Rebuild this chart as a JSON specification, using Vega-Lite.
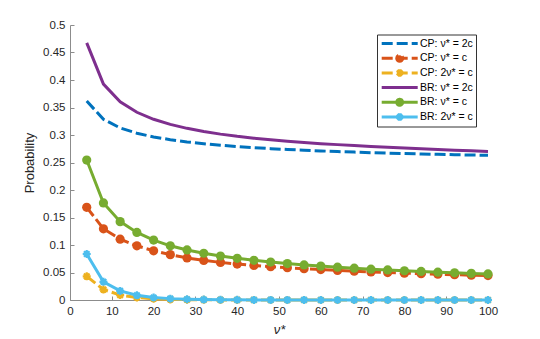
{
  "$schema": "https://vega.github.io/schema/vega-lite/v6.json",
  "width": 418,
  "height": 275,
  "autosize": {"type": "none"},
  "padding": {"left": 70, "top": 25, "right": 52, "bottom": 39},
  "background": "white",
  "config": {
    "view": {"stroke": null},
    "font": "Liberation Sans",
    "axis": {
      "grid": false,
      "domainColor": "#8c8c8c",
      "tickColor": "#8c8c8c",
      "tickSize": -4,
      "labelFlush": false,
      "labelOverlap": false,
      "labelFont": "Liberation Sans",
      "labelFontSize": 11.5,
      "labelColor": "#262626",
      "labelPadding": 9,
      "titleFont": "Liberation Sans",
      "titleFontSize": 13,
      "titleFontWeight": "normal",
      "titleColor": "#262626"
    }
  },
  "data": {
    "values": [
      {"s": "CP: ν* = 2c", "x": 4, "p": 0.3618}, {"s": "CP: ν* = 2c", "x": 8, "p": 0.3285}, {"s": "CP: ν* = 2c", "x": 12, "p": 0.3129}, {"s": "CP: ν* = 2c", "x": 16, "p": 0.3033}, {"s": "CP: ν* = 2c", "x": 20, "p": 0.2965},
      {"s": "CP: ν* = 2c", "x": 24, "p": 0.2915}, {"s": "CP: ν* = 2c", "x": 28, "p": 0.2874}, {"s": "CP: ν* = 2c", "x": 32, "p": 0.2842}, {"s": "CP: ν* = 2c", "x": 36, "p": 0.2814}, {"s": "CP: ν* = 2c", "x": 40, "p": 0.2790},
      {"s": "CP: ν* = 2c", "x": 44, "p": 0.2770}, {"s": "CP: ν* = 2c", "x": 48, "p": 0.2752}, {"s": "CP: ν* = 2c", "x": 52, "p": 0.2737}, {"s": "CP: ν* = 2c", "x": 56, "p": 0.2723}, {"s": "CP: ν* = 2c", "x": 60, "p": 0.2710},
      {"s": "CP: ν* = 2c", "x": 64, "p": 0.2699}, {"s": "CP: ν* = 2c", "x": 68, "p": 0.2689}, {"s": "CP: ν* = 2c", "x": 72, "p": 0.2679}, {"s": "CP: ν* = 2c", "x": 76, "p": 0.2670}, {"s": "CP: ν* = 2c", "x": 80, "p": 0.2662},
      {"s": "CP: ν* = 2c", "x": 84, "p": 0.2655}, {"s": "CP: ν* = 2c", "x": 88, "p": 0.2648}, {"s": "CP: ν* = 2c", "x": 92, "p": 0.2642}, {"s": "CP: ν* = 2c", "x": 96, "p": 0.2636}, {"s": "CP: ν* = 2c", "x": 100, "p": 0.2630},

      {"s": "CP: ν* = c", "x": 4, "p": 0.1685}, {"s": "CP: ν* = c", "x": 8, "p": 0.1295}, {"s": "CP: ν* = c", "x": 12, "p": 0.1105}, {"s": "CP: ν* = c", "x": 16, "p": 0.0985}, {"s": "CP: ν* = c", "x": 20, "p": 0.0895},
      {"s": "CP: ν* = c", "x": 24, "p": 0.0825}, {"s": "CP: ν* = c", "x": 28, "p": 0.0765}, {"s": "CP: ν* = c", "x": 32, "p": 0.0720}, {"s": "CP: ν* = c", "x": 36, "p": 0.0684}, {"s": "CP: ν* = c", "x": 40, "p": 0.0654},
      {"s": "CP: ν* = c", "x": 44, "p": 0.0629}, {"s": "CP: ν* = c", "x": 48, "p": 0.0606}, {"s": "CP: ν* = c", "x": 52, "p": 0.0587}, {"s": "CP: ν* = c", "x": 56, "p": 0.0569}, {"s": "CP: ν* = c", "x": 60, "p": 0.0553},
      {"s": "CP: ν* = c", "x": 64, "p": 0.0538}, {"s": "CP: ν* = c", "x": 68, "p": 0.0524}, {"s": "CP: ν* = c", "x": 72, "p": 0.0511}, {"s": "CP: ν* = c", "x": 76, "p": 0.0499}, {"s": "CP: ν* = c", "x": 80, "p": 0.0488},
      {"s": "CP: ν* = c", "x": 84, "p": 0.0478}, {"s": "CP: ν* = c", "x": 88, "p": 0.0469}, {"s": "CP: ν* = c", "x": 92, "p": 0.0460}, {"s": "CP: ν* = c", "x": 96, "p": 0.0452}, {"s": "CP: ν* = c", "x": 100, "p": 0.0444},

      {"s": "CP: 2ν* = c", "x": 4, "p": 0.0430}, {"s": "CP: 2ν* = c", "x": 8, "p": 0.0190}, {"s": "CP: 2ν* = c", "x": 12, "p": 0.0090}, {"s": "CP: 2ν* = c", "x": 16, "p": 0.0045}, {"s": "CP: 2ν* = c", "x": 20, "p": 0.0022},
      {"s": "CP: 2ν* = c", "x": 24, "p": 0.0011}, {"s": "CP: 2ν* = c", "x": 28, "p": 0.0006}, {"s": "CP: 2ν* = c", "x": 32, "p": 0.0003}, {"s": "CP: 2ν* = c", "x": 36, "p": 0.0002}, {"s": "CP: 2ν* = c", "x": 40, "p": 0.0001},
      {"s": "CP: 2ν* = c", "x": 44, "p": 0.0001}, {"s": "CP: 2ν* = c", "x": 48, "p": 0}, {"s": "CP: 2ν* = c", "x": 52, "p": 0}, {"s": "CP: 2ν* = c", "x": 56, "p": 0}, {"s": "CP: 2ν* = c", "x": 60, "p": 0},
      {"s": "CP: 2ν* = c", "x": 64, "p": 0}, {"s": "CP: 2ν* = c", "x": 68, "p": 0}, {"s": "CP: 2ν* = c", "x": 72, "p": 0}, {"s": "CP: 2ν* = c", "x": 76, "p": 0}, {"s": "CP: 2ν* = c", "x": 80, "p": 0},
      {"s": "CP: 2ν* = c", "x": 84, "p": 0}, {"s": "CP: 2ν* = c", "x": 88, "p": 0}, {"s": "CP: 2ν* = c", "x": 92, "p": 0}, {"s": "CP: 2ν* = c", "x": 96, "p": 0}, {"s": "CP: 2ν* = c", "x": 100, "p": 0},

      {"s": "BR: ν* = 2c", "x": 4, "p": 0.4675}, {"s": "BR: ν* = 2c", "x": 8, "p": 0.3925}, {"s": "BR: ν* = 2c", "x": 12, "p": 0.3602}, {"s": "BR: ν* = 2c", "x": 16, "p": 0.3413}, {"s": "BR: ν* = 2c", "x": 20, "p": 0.3286},
      {"s": "BR: ν* = 2c", "x": 24, "p": 0.3193}, {"s": "BR: ν* = 2c", "x": 28, "p": 0.3121}, {"s": "BR: ν* = 2c", "x": 32, "p": 0.3063}, {"s": "BR: ν* = 2c", "x": 36, "p": 0.3016}, {"s": "BR: ν* = 2c", "x": 40, "p": 0.2976},
      {"s": "BR: ν* = 2c", "x": 44, "p": 0.2943}, {"s": "BR: ν* = 2c", "x": 48, "p": 0.2913}, {"s": "BR: ν* = 2c", "x": 52, "p": 0.2887}, {"s": "BR: ν* = 2c", "x": 56, "p": 0.2864}, {"s": "BR: ν* = 2c", "x": 60, "p": 0.2843},
      {"s": "BR: ν* = 2c", "x": 64, "p": 0.2825}, {"s": "BR: ν* = 2c", "x": 68, "p": 0.2808}, {"s": "BR: ν* = 2c", "x": 72, "p": 0.2792}, {"s": "BR: ν* = 2c", "x": 76, "p": 0.2777}, {"s": "BR: ν* = 2c", "x": 80, "p": 0.2763},
      {"s": "BR: ν* = 2c", "x": 84, "p": 0.2749}, {"s": "BR: ν* = 2c", "x": 88, "p": 0.2736}, {"s": "BR: ν* = 2c", "x": 92, "p": 0.2724}, {"s": "BR: ν* = 2c", "x": 96, "p": 0.2712}, {"s": "BR: ν* = 2c", "x": 100, "p": 0.2700},

      {"s": "BR: ν* = c", "x": 4, "p": 0.2545}, {"s": "BR: ν* = c", "x": 8, "p": 0.1765}, {"s": "BR: ν* = c", "x": 12, "p": 0.1425}, {"s": "BR: ν* = c", "x": 16, "p": 0.1228}, {"s": "BR: ν* = c", "x": 20, "p": 0.1090},
      {"s": "BR: ν* = c", "x": 24, "p": 0.0985}, {"s": "BR: ν* = c", "x": 28, "p": 0.0910}, {"s": "BR: ν* = c", "x": 32, "p": 0.0850}, {"s": "BR: ν* = c", "x": 36, "p": 0.0800}, {"s": "BR: ν* = c", "x": 40, "p": 0.0758},
      {"s": "BR: ν* = c", "x": 44, "p": 0.0722}, {"s": "BR: ν* = c", "x": 48, "p": 0.0690}, {"s": "BR: ν* = c", "x": 52, "p": 0.0662}, {"s": "BR: ν* = c", "x": 56, "p": 0.0638}, {"s": "BR: ν* = c", "x": 60, "p": 0.0616},
      {"s": "BR: ν* = c", "x": 64, "p": 0.0596}, {"s": "BR: ν* = c", "x": 68, "p": 0.0578}, {"s": "BR: ν* = c", "x": 72, "p": 0.0561}, {"s": "BR: ν* = c", "x": 76, "p": 0.0546}, {"s": "BR: ν* = c", "x": 80, "p": 0.0532},
      {"s": "BR: ν* = c", "x": 84, "p": 0.0519}, {"s": "BR: ν* = c", "x": 88, "p": 0.0506}, {"s": "BR: ν* = c", "x": 92, "p": 0.0495}, {"s": "BR: ν* = c", "x": 96, "p": 0.0484}, {"s": "BR: ν* = c", "x": 100, "p": 0.0473},

      {"s": "BR: 2ν* = c", "x": 4, "p": 0.0836}, {"s": "BR: 2ν* = c", "x": 8, "p": 0.0330}, {"s": "BR: 2ν* = c", "x": 12, "p": 0.0165}, {"s": "BR: 2ν* = c", "x": 16, "p": 0.0085}, {"s": "BR: 2ν* = c", "x": 20, "p": 0.0045},
      {"s": "BR: 2ν* = c", "x": 24, "p": 0.0025}, {"s": "BR: 2ν* = c", "x": 28, "p": 0.0014}, {"s": "BR: 2ν* = c", "x": 32, "p": 0.0008}, {"s": "BR: 2ν* = c", "x": 36, "p": 0.0005}, {"s": "BR: 2ν* = c", "x": 40, "p": 0.0003},
      {"s": "BR: 2ν* = c", "x": 44, "p": 0.0002}, {"s": "BR: 2ν* = c", "x": 48, "p": 0.0001}, {"s": "BR: 2ν* = c", "x": 52, "p": 0.0001}, {"s": "BR: 2ν* = c", "x": 56, "p": 0.0001}, {"s": "BR: 2ν* = c", "x": 60, "p": 0},
      {"s": "BR: 2ν* = c", "x": 64, "p": 0}, {"s": "BR: 2ν* = c", "x": 68, "p": 0}, {"s": "BR: 2ν* = c", "x": 72, "p": 0}, {"s": "BR: 2ν* = c", "x": 76, "p": 0}, {"s": "BR: 2ν* = c", "x": 80, "p": 0},
      {"s": "BR: 2ν* = c", "x": 84, "p": 0}, {"s": "BR: 2ν* = c", "x": 88, "p": 0}, {"s": "BR: 2ν* = c", "x": 92, "p": 0}, {"s": "BR: 2ν* = c", "x": 96, "p": 0}, {"s": "BR: 2ν* = c", "x": 100, "p": 0}
    ]
  },
  "encoding": {
    "x": {
      "field": "x", "type": "quantitative",
      "scale": {"domain": [0, 100], "nice": false},
      "axis": {"values": [0, 10, 20, 30, 40, 50, 60, 70, 80, 90, 100], "title": "ν*", "titleFontStyle": "italic", "titlePadding": 7}
    },
    "y": {
      "field": "p", "type": "quantitative",
      "scale": {"domain": [0, 0.5], "nice": false},
      "axis": {"values": [0, 0.05, 0.1, 0.15, 0.2, 0.25, 0.3, 0.35, 0.4, 0.45, 0.5], "format": "~g", "title": "Probability", "titlePadding": 6}
    },
    "color": {
      "field": "s", "type": "nominal",
      "scale": {
        "domain": ["CP: ν* = 2c", "CP: ν* = c", "CP: 2ν* = c", "BR: ν* = 2c", "BR: ν* = c", "BR: 2ν* = c"],
        "range": ["#0072BD", "#D95319", "#EDB120", "#7E2F8E", "#77AC30", "#4DBEEE"]
      },
      "legend": {
        "title": null,
        "orient": "none",
        "legendX": 307,
        "legendY": 9.5,
        "padding": 2.5,
        "strokeColor": "#333333",
        "fillColor": "white",
        "labelFont": "Liberation Sans",
        "labelFontSize": 10.5,
        "labelColor": "#000000",
        "labelOffset": 27.5,
        "symbolSize": 100,
        "symbolStrokeWidth": 3,
        "clipHeight": 13,
        "rowPadding": 1.7,
        "encode": {
          "symbols": {
            "update": {
              "shape": {"signal": "(datum.value === 'CP: ν* = c' || datum.value === 'BR: ν* = c') ? 'M-0.86,0L6.34,0M2.14,0A0.6,0.6 0 1,0 3.34,0A0.6,0.6 0 1,0 2.14,0Z' : ((datum.value === 'CP: 2ν* = c' || datum.value === 'BR: 2ν* = c') ? 'M-0.86,0L6.34,0M2.74,-0.75L2.74,0.75M2.21,-0.53L3.27,0.53M2.21,0.53L3.27,-0.53' : 'M-0.86,0L6.34,0')"},
              "fill": {"signal": "(datum.value === 'CP: ν* = c' || datum.value === 'BR: ν* = c') ? scale('color', datum.value) : 'transparent'"},
              "stroke": {"signal": "scale('color', datum.value)"},
              "strokeDash": {"signal": "(datum.value === 'CP: ν* = 2c' || datum.value === 'CP: ν* = c' || datum.value === 'CP: 2ν* = c') ? [11, 4] : [1, 0]"},
              "strokeWidth": {"value": 3},
              "opacity": {"value": 1}
            }
          }
        }
      }
    }
  },
  "layer": [
    {
      "transform": [{"filter": "datum.s === 'CP: ν* = 2c'"}],
      "mark": {"type": "line", "strokeWidth": 3, "strokeDash": [11, 4]},
      "encoding": {}
    },
    {
      "transform": [{"filter": "datum.s === 'CP: ν* = c'"}],
      "mark": {"type": "line", "strokeWidth": 3, "strokeDash": [11, 4]},
      "encoding": {}
    },
    {
      "transform": [{"filter": "datum.s === 'CP: ν* = c'"}],
      "mark": {"type": "point", "shape": "circle", "filled": true, "size": 85, "opacity": 1},
      "encoding": {}
    },
    {
      "transform": [{"filter": "datum.s === 'CP: 2ν* = c'"}],
      "mark": {"type": "line", "strokeWidth": 3, "strokeDash": [11, 4]},
      "encoding": {}
    },
    {
      "transform": [{"filter": "datum.s === 'CP: 2ν* = c'"}],
      "mark": {"type": "point", "shape": "M-1,0L1,0M0,-1L0,1M-0.7,-0.7L0.7,0.7M-0.7,0.7L0.7,-0.7", "filled": false, "size": 64, "strokeWidth": 2.2, "opacity": 1},
      "encoding": {}
    },
    {
      "transform": [{"filter": "datum.s === 'BR: ν* = 2c'"}],
      "mark": {"type": "line", "strokeWidth": 3},
      "encoding": {}
    },
    {
      "transform": [{"filter": "datum.s === 'BR: ν* = c'"}],
      "mark": {"type": "line", "strokeWidth": 3},
      "encoding": {}
    },
    {
      "transform": [{"filter": "datum.s === 'BR: ν* = c'"}],
      "mark": {"type": "point", "shape": "circle", "filled": true, "size": 85, "opacity": 1},
      "encoding": {}
    },
    {
      "transform": [{"filter": "datum.s === 'BR: 2ν* = c'"}],
      "mark": {"type": "line", "strokeWidth": 3},
      "encoding": {}
    },
    {
      "transform": [{"filter": "datum.s === 'BR: 2ν* = c'"}],
      "mark": {"type": "point", "shape": "M-1,0L1,0M0,-1L0,1M-0.7,-0.7L0.7,0.7M-0.7,0.7L0.7,-0.7", "filled": false, "size": 64, "strokeWidth": 2.2, "opacity": 1},
      "encoding": {}
    }
  ]
}
